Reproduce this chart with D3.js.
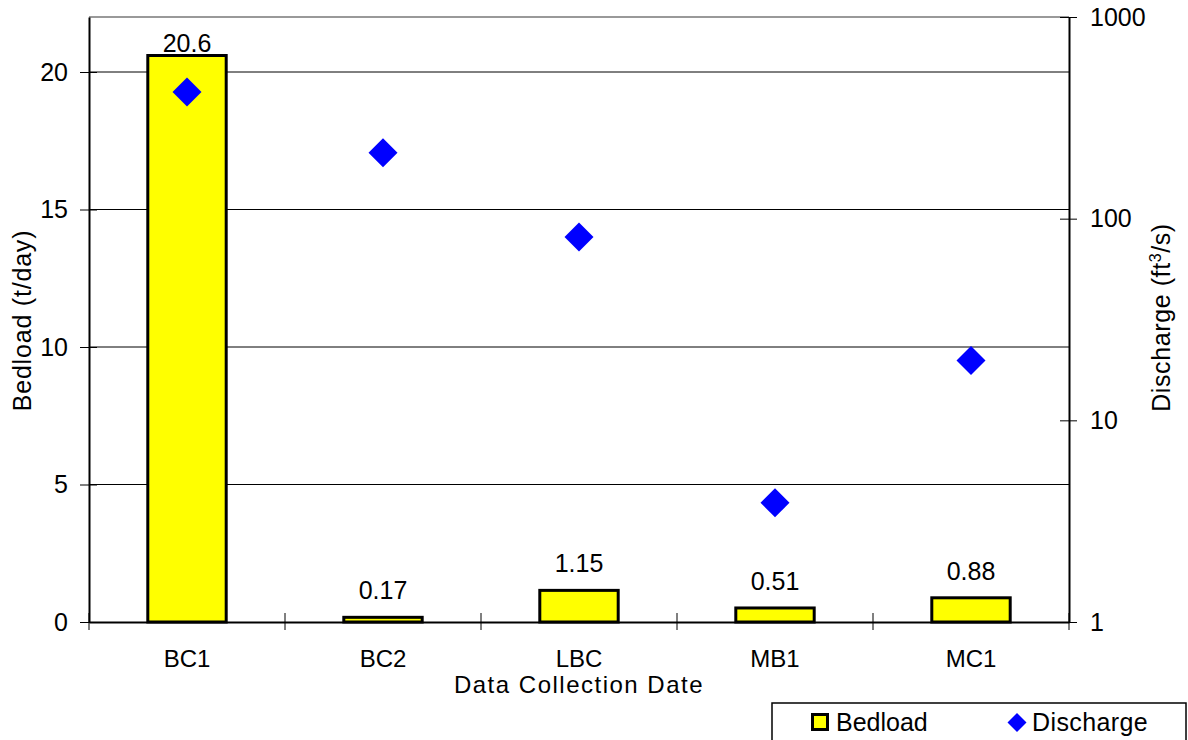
<!DOCTYPE html>
<html>
<head>
<meta charset="utf-8">
<script src="https://cdn.jsdelivr.net/npm/d3@7"></script>
<style>
  html, body { margin: 0; padding: 0; background: #fff; }
  svg { display: block; font-family: "Liberation Sans", Arial, sans-serif; }
</style>
</head>
<body>
<svg id="chart" width="1188" height="740"></svg>
<script>
// Sites and measurements
const sites = ["BC1", "BC2", "LBC", "MB1", "MC1"];
const bedload = [20.6, 0.17, 1.15, 0.51, 0.88];        // t/day
const discharge = [425, 212, 81, 3.9, 19.8];           // ft^3/s
const bedloadTicks = [0, 5, 10, 15, 20];
const dischargeTicks = [1, 10, 100, 1000];

const svg = d3.select("#chart");
const plot = { left: 89, right: 1069, top: 17, bottom: 622 };

const x = d3.scaleBand().domain(sites).range([plot.left, plot.right]).paddingInner(0).paddingOuter(0);
const yL = d3.scaleLinear().domain([0, 22]).range([plot.bottom, plot.top]);
const yR = d3.scaleLog().domain([1, 1000]).range([plot.bottom, plot.top]);

const fontSize = 25;
const FONT = "Liberation Sans, Arial, sans-serif";

// Horizontal gridlines on the bedload scale
svg.append("g").selectAll("line")
  .data(bedloadTicks.filter(d => d > 0))
  .join("line")
  .attr("x1", plot.left).attr("x2", plot.right)
  .attr("y1", d => yL(d)).attr("y2", d => yL(d))
  .attr("stroke", "#000").attr("stroke-width", 1);

// Top frame line
svg.append("line")
  .attr("x1", plot.left).attr("x2", plot.right)
  .attr("y1", plot.top).attr("y2", plot.top)
  .attr("stroke", "#999").attr("stroke-width", 2);

// Bars
const barW = x.bandwidth() / 2.5;
svg.append("g").selectAll("rect")
  .data(sites)
  .join("rect")
  .attr("x", d => x(d) + (x.bandwidth() - barW) / 2)
  .attr("y", (d, i) => yL(bedload[i]))
  .attr("width", barW)
  .attr("height", (d, i) => yL(0) - yL(bedload[i]))
  .attr("fill", "#ffff00")
  .attr("stroke", "#000")
  .attr("stroke-width", 3);

// Bar value labels (kept inside the plot area when the bar is tall)
svg.append("g").selectAll("text")
  .data(sites)
  .join("text")
  .attr("x", d => x(d) + x.bandwidth() / 2)
  .attr("y", (d, i) => Math.max(yL(bedload[i]) - 18, plot.top + 35))
  .attr("text-anchor", "middle")
  .attr("font-size", fontSize)
  .attr("fill", "#000")
  .text((d, i) => String(bedload[i]));

// Discharge markers (diamonds)
const dia = 14.5;
svg.append("g").selectAll("path")
  .data(sites)
  .join("path")
  .attr("transform", (d, i) => `translate(${x(d) + x.bandwidth() / 2},${yR(discharge[i])})`)
  .attr("d", `M0,${-dia}L${dia},0L0,${dia}L${-dia},0Z`)
  .attr("fill", "#0000ff");

// Left axis
const axL = svg.append("g").attr("transform", `translate(${plot.left},0)`)
  .call(d3.axisLeft(yL).tickValues(bedloadTicks).tickSize(0).tickPadding(21).tickFormat(d3.format("d")));
axL.select(".domain").attr("stroke", "#000").attr("stroke-width", 2);
axL.selectAll(".tick text").attr("font-size", fontSize).attr("fill", "#000").attr("font-family", FONT);
axL.selectAll(".tick").append("line").attr("x1", -9).attr("x2", 8).attr("stroke", "#000");

// Right axis (log)
const axR = svg.append("g").attr("transform", `translate(${plot.right},0)`)
  .call(d3.axisRight(yR).tickValues(dischargeTicks).tickSize(0).tickPadding(21).tickFormat(d3.format("d")));
axR.select(".domain").attr("stroke", "#000").attr("stroke-width", 2);
axR.selectAll(".tick text").attr("font-size", fontSize).attr("fill", "#000").attr("font-family", FONT);
axR.selectAll(".tick").append("line").attr("x1", -9).attr("x2", 8).attr("stroke", "#000");

// Bottom axis
const axB = svg.append("g").attr("transform", `translate(0,${plot.bottom})`)
  .call(d3.axisBottom(x).tickSize(0).tickPadding(0));
axB.select(".domain").attr("stroke", "#000").attr("stroke-width", 2);
axB.selectAll(".tick text").attr("font-size", 24).attr("fill", "#000").attr("font-family", FONT)
  .attr("dy", null).attr("y", 45);
// Category boundary ticks
const bounds = sites.map(d => x(d)).concat([plot.right]);
svg.append("g").selectAll("line")
  .data(bounds)
  .join("line")
  .attr("x1", d => d).attr("x2", d => d)
  .attr("y1", plot.bottom - 9).attr("y2", plot.bottom + 8)
  .attr("stroke", "#000");

// Axis titles
svg.append("text")
  .attr("transform", `translate(31,${(plot.top + plot.bottom) / 2 + 1}) rotate(-90)`)
  .attr("text-anchor", "middle").attr("font-size", fontSize).attr("letter-spacing", 0.8).attr("fill", "#000")
  .text("Bedload (t/day)");

const rt = svg.append("text")
  .attr("transform", `translate(1170,${(plot.top + plot.bottom) / 2 - 2}) rotate(-90)`)
  .attr("text-anchor", "middle").attr("font-size", fontSize).attr("letter-spacing", 0.6).attr("fill", "#000");
rt.append("tspan").text("Discharge (ft");
rt.append("tspan").attr("font-size", 16).attr("dy", -9).text("3");
rt.append("tspan").attr("dy", 9).text("/s)");

svg.append("text")
  .attr("x", (plot.left + plot.right) / 2).attr("y", 693)
  .attr("text-anchor", "middle").attr("font-size", 24).attr("letter-spacing", 1.5).attr("fill", "#000")
  .text("Data Collection Date");

// Legend
const lg = svg.append("g");
lg.append("rect").attr("x", 772).attr("y", 703).attr("width", 414).attr("height", 50)
  .attr("fill", "#fff").attr("stroke", "#000").attr("stroke-width", 1.5);
lg.append("rect").attr("x", 812.5).attr("y", 714.5).attr("width", 15).attr("height", 15)
  .attr("fill", "#ffff00").attr("stroke", "#000").attr("stroke-width", 3);
lg.append("text").attr("x", 836).attr("y", 731).attr("font-size", fontSize).attr("fill", "#000").text("Bedload");
lg.append("path").attr("transform", "translate(1017,722.5)")
  .attr("d", "M0,-9.5L9.5,0L0,9.5L-9.5,0Z").attr("fill", "#0000ff");
lg.append("text").attr("x", 1032).attr("y", 731).attr("font-size", fontSize).attr("letter-spacing", 0.4).attr("fill", "#000").text("Discharge");
</script>
</body>
</html>
